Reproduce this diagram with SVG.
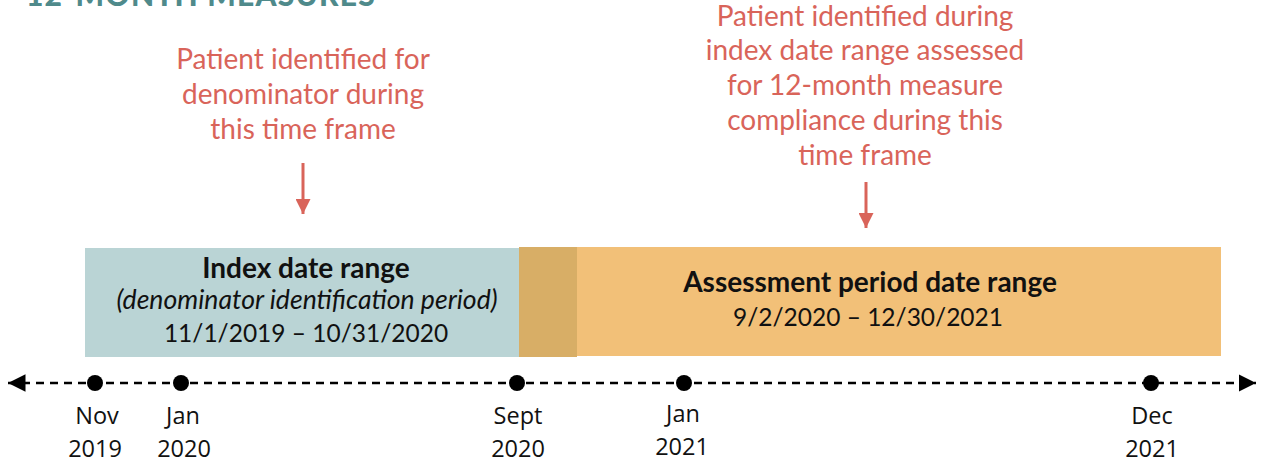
<svg xmlns="http://www.w3.org/2000/svg" width="1261" height="463" viewBox="0 0 1261 463">
<style>
.title{font-family:Lato,"Liberation Sans",sans-serif;font-weight:900;font-size:30px;fill:#4f8a8b;letter-spacing:1.2px}
.note{font-family:Lato,"Liberation Sans",sans-serif;font-size:28px;fill:#d9645a;text-anchor:middle}
.box{font-family:Lato,"Liberation Sans",sans-serif;font-size:24.5px;fill:#111;text-anchor:middle}
.b{font-weight:bold;font-size:28px}
.i{font-style:italic;font-size:26.6px}
.ax{font-family:"Open Sans","Noto Sans",sans-serif;font-size:23.5px;fill:#111;text-anchor:middle}
.red{stroke:#d9645a;stroke-width:3;fill:none}
</style>
<defs>
<marker id="ra" viewBox="0 0 10 10" refX="10" refY="5" markerWidth="5" markerHeight="5" orient="auto" markerUnits="strokeWidth"><path d="M0,0L10,5L0,10z" fill="#d9645a"/></marker>
<marker id="ka" viewBox="0 0 10 10" refX="10" refY="5" markerWidth="7" markerHeight="7" orient="auto-start-reverse" markerUnits="strokeWidth"><path d="M0,0L10,5L0,10z" fill="#000"/></marker>
</defs>
<rect width="1261" height="463" fill="#fff"/>
<text class="title" x="26" y="6">12-MONTH MEASURES</text>
<g id="note-left">
<text class="note" x="303" y="69">Patient identified for</text>
<text class="note" x="303" y="104">denominator during</text>
<text class="note" x="303" y="139">this time frame</text>
</g>
<g id="note-right">
<text class="note" x="865" y="26">Patient identified during</text>
<text class="note" x="865" y="60">index date range assessed</text>
<text class="note" x="865" y="95">for 12-month measure</text>
<text class="note" x="865" y="130">compliance during this</text>
<text class="note" x="865" y="165">time frame</text>
</g>
<g id="index-range">
<rect x="85" y="248" width="434" height="109" fill="#bad4d5"/>
<text class="box b" x="306" y="278">Index date range</text>
<text class="box i" x="307" y="309">(denominator identification period)</text>
<text class="box" x="306" y="342">11/1/2019 – 10/31/2020</text>
</g>
<g id="assessment-range">
<rect x="577" y="247" width="644" height="109" fill="#f2c078"/>
<text class="box b" x="870" y="292">Assessment period date range</text>
<text class="box" x="868" y="326">9/2/2020 – 12/30/2021</text>
</g>
<g id="overlap">
<rect x="519" y="247" width="58" height="110" fill="#d8ae66"/>
</g>
<g id="connectors">
<line class="red" x1="303" y1="163" x2="303" y2="214" marker-end="url(#ra)"/>
<line class="red" x1="866" y1="182" x2="866" y2="228" marker-end="url(#ra)"/>
<line x1="8" y1="383" x2="1256" y2="383" stroke="#000" stroke-width="2.5" stroke-dasharray="8,6" marker-start="url(#ka)" marker-end="url(#ka)"/>
</g>
<g id="timeline">
<circle cx="95" cy="383" r="8"/>
<circle cx="181" cy="383" r="8"/>
<circle cx="517" cy="383" r="8"/>
<circle cx="684" cy="383" r="8"/>
<circle cx="1151" cy="383" r="8"/>
<text class="ax" x="97" y="424">Nov</text><text class="ax" x="95" y="457">2019</text>
<text class="ax" x="183" y="424">Jan</text><text class="ax" x="184" y="457">2020</text>
<text class="ax" x="518" y="424">Sept</text><text class="ax" x="518" y="457">2020</text>
<text class="ax" x="683" y="422">Jan</text><text class="ax" x="682" y="455">2021</text>
<text class="ax" x="1152" y="424">Dec</text><text class="ax" x="1152" y="457">2021</text>
</g>
</svg>
